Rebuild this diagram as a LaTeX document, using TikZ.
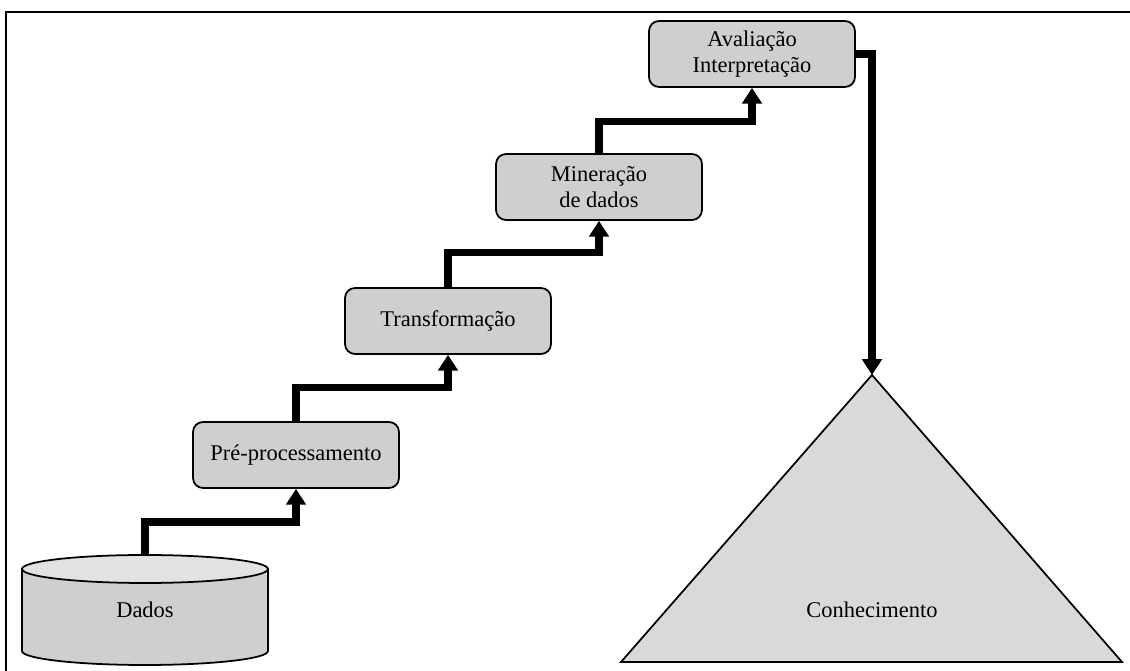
\documentclass[tikz,border=0pt]{standalone}
\usepackage{fontspec}
\setmainfont{Liberation Serif}
\usetikzlibrary{arrows.meta}
\definecolor{boxgray}{HTML}{D0CECE}
\definecolor{topgray}{HTML}{E2E2E2}
\definecolor{trigray}{HTML}{D9D9D9}
\begin{document}
\begin{tikzpicture}[x=0.02cm, y=-0.02cm]

    \tikzstyle{etapa}=[draw, line width=1pt, fill=boxgray, rounded corners=0.2cm,
        minimum width=4.12cm, minimum height=1.32cm, align=center, font=\fontsize{12.8}{15}\selectfont]
    \tikzstyle{rotulo}=[font=\fontsize{12.8}{15}\selectfont]
    \tikzstyle{fluxo}=[line width=4pt, -{Triangle[width=11pt,length=9pt]}]

    \useasboundingbox (0,0) rectangle (1130,671);
    \draw[line width=1.2pt] (6,671) -- (6,12) -- (1130,12);

    % base de dados
    \draw[line width=1pt, fill=boxgray] (22,569) -- (22,651)
        arc[start angle=180, end angle=360, x radius=2.46cm, y radius=0.28cm] -- (268,569) -- cycle;
    \draw[line width=1pt, fill=topgray] (145,569) ellipse [x radius=2.46cm, y radius=0.28cm];
    \coordinate (DadosTopo) at (145,555);
    \node[rotulo] (Dados) at (145,610) {Dados};

    \node[etapa] (Pre) at (296,455) {Pré-processamento};
    \node[etapa] (Transf) at (448,321) {Transformação};
    \node[etapa] (Miner) at (599,187) {Mineração\\de dados};
    \node[etapa] (Aval) at (752,54) {Avaliação\\Interpretação};

    % conhecimento
    \coordinate (Topo) at (872,375);
    \draw[line width=1pt, fill=trigray] (Topo) -- (1122,662) -- (621,662) -- cycle;
    \node[rotulo] (Conhec) at (872,610) {Conhecimento};

    \draw[fluxo] (DadosTopo) -- ++(0,-33) -| (Pre.south);
    \draw[fluxo] (Pre.north) -- ++(0,-34) -| (Transf.south);
    \draw[fluxo] (Transf.north) -- ++(0,-35) -| (Miner.south);
    \draw[fluxo] (Miner.north) -- ++(0,-32) -| (Aval.south);
    \draw[fluxo] (Aval.east) -| (Topo);
\end{tikzpicture}
\end{document}
